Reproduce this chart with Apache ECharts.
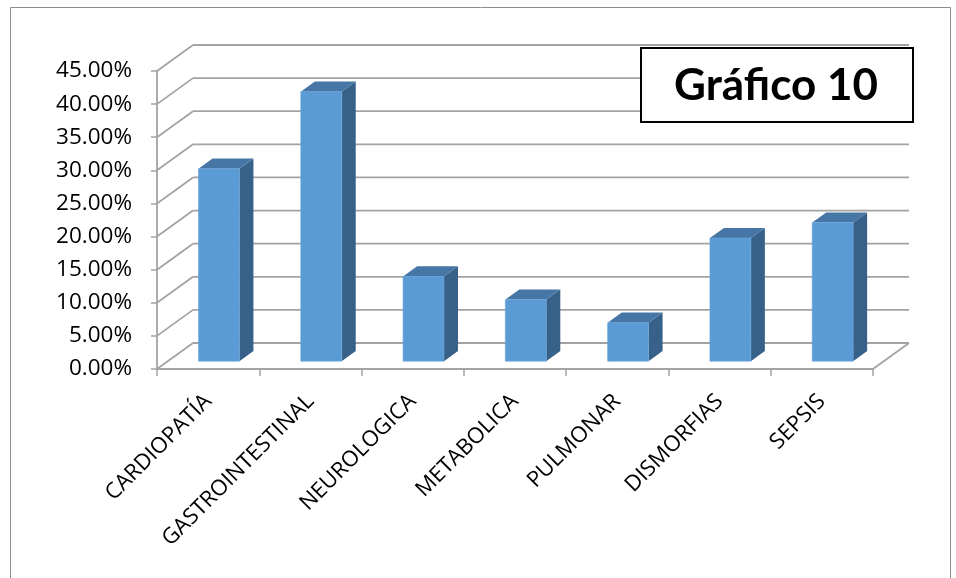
<!DOCTYPE html>
<html>
<head>
<meta charset="utf-8">
<style>
  html, body { margin: 0; padding: 0; background: #ffffff; }
  #chart { width: 956px; height: 578px; }
</style>
<script src="https://cdn.jsdelivr.net/npm/echarts@6/dist/echarts.min.js"></script>
</head>
<body>
<div id="chart"></div>
<script>
// Categories and shares (percent of cases)
const categories = ['CARDIOPATÍA', 'GASTROINTESTINAL', 'NEUROLOGICA', 'METABOLICA', 'PULMONAR', 'DISMORFIAS', 'SEPSIS'];
const shares = [29.07, 40.70, 12.79, 9.30, 5.81, 18.60, 20.93];
const yTicks = [0, 5, 10, 15, 20, 25, 30, 35, 40, 45];
const chartTitle = 'Gráfico 10';

// Oblique depth offset of the back wall (pixels)
const DX = 36, DY = -26;
// Bar placement inside the depth (fractions) and bar width (fraction of band)
const FRONT = 0.30, BACK = 0.69, BAR_W = 0.40;

const GRID_COLOR = '#a3a3a3';
const FACE = '#5b9bd5', TOP = '#4676a6', SIDE = '#386189';

const chart = echarts.init(document.getElementById('chart'), null, { renderer: 'canvas' });

function wallItem(params, api) {
  const cs = params.coordSys;
  const v = api.value(0);
  const y = api.coord([0, v])[1];
  const x0 = cs.x, x1 = cs.x + cs.width;
  const st = { stroke: GRID_COLOR, lineWidth: 1.8 };
  const children = [
    { type: 'line', shape: { x1: x0, y1: y, x2: x0 + DX, y2: y + DY }, style: st },
    { type: 'line', shape: { x1: x0 + DX, y1: y + DY, x2: x1 + DX, y2: y + DY }, style: st }
  ];
  if (v === 0) {
    children.push({ type: 'line', shape: { x1: x1, y1: y, x2: x1 + DX, y2: y + DY }, style: st });
  }
  return { type: 'group', children: children };
}

function barItem(params, api) {
  const idx = api.value(0);
  const val = api.value(1);
  const top = api.coord([idx, val]);
  const base = api.coord([idx, 0]);
  const band = api.size([1, 0])[0];
  const w = band * BAR_W;
  const x0 = top[0] - w / 2 + DX * FRONT;
  const yt = top[1] + DY * FRONT;
  const yb = base[1] + DY * FRONT;
  const ddx = DX * (BACK - FRONT), ddy = DY * (BACK - FRONT);
  return {
    type: 'group',
    children: [
      { type: 'polygon', shape: { points: [[x0 + w, yt], [x0 + w + ddx, yt + ddy], [x0 + w + ddx, yb + ddy], [x0 + w, yb]] },
        style: { fill: SIDE } },
      { type: 'polygon', shape: { points: [[x0, yt], [x0 + w, yt], [x0 + w + ddx, yt + ddy], [x0 + ddx, yt + ddy]] },
        style: { fill: TOP } },
      { type: 'rect', shape: { x: x0, y: yt, width: w, height: yb - yt },
        style: { fill: FACE, stroke: '#6aa6dc', lineWidth: 0.6 } }
    ]
  };
}

chart.setOption({
  animation: false,
  backgroundColor: '#ffffff',
  grid: { left: 157, right: 83, top: 71, bottom: 209, containLabel: false },
  xAxis: {
    type: 'category',
    data: categories,
    boundaryGap: true,
    axisLine: { show: true, lineStyle: { color: GRID_COLOR, width: 1.8 } },
    axisTick: { show: true, length: 7, interval: 0, lineStyle: { color: GRID_COLOR, width: 1.5 } },
    axisLabel: {
      interval: 0, rotate: 45, margin: 29, color: '#000000',
      fontFamily: 'Open Sans', fontSize: 22
    },
    splitLine: { show: false }
  },
  yAxis: {
    type: 'value',
    min: 0, max: 45, interval: 5,
    axisLine: { show: true, lineStyle: { color: GRID_COLOR, width: 1.8 } },
    axisTick: { show: true, length: 6, lineStyle: { color: GRID_COLOR, width: 1.5 } },
    axisLabel: {
      color: '#000000', fontFamily: 'Open Sans', fontSize: 22.5, margin: 25,
      formatter: function (v) { return v.toFixed(2) + '%'; }
    },
    splitLine: { show: false }
  },
  series: [
    {
      type: 'custom',
      name: 'wall',
      coordinateSystem: 'cartesian2d',
      renderItem: wallItem,
      data: yTicks.map(function (v) { return [v]; }),
      encode: { y: 0 },
      silent: true,
      z: 1
    },
    {
      type: 'custom',
      name: 'bars',
      coordinateSystem: 'cartesian2d',
      renderItem: barItem,
      data: shares.map(function (v, i) { return [i, v]; }),
      encode: { x: 0, y: 1 },
      z: 3
    }
  ],
  graphic: [
    { type: 'rect', left: 8, top: 5, shape: { width: 940, height: 571 },
      style: { fill: 'none', stroke: '#8c8c8c', lineWidth: 1 }, z: 0, silent: true },
    { type: 'rect', left: 640, top: 47, shape: { width: 272, height: 74 },
      style: { fill: '#ffffff', stroke: '#000000', lineWidth: 2 }, z: 10 },
    { type: 'text', x: 776, y: 86,
      style: { text: chartTitle, fill: '#000000', font: 'bold 44px Lato', align: 'center', verticalAlign: 'middle' }, z: 11 }
  ]
});
</script>
</body>
</html>
